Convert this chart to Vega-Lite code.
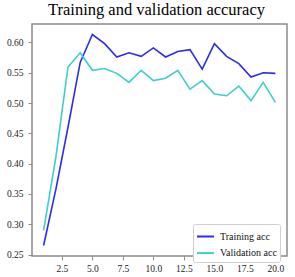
{
  "$schema": "https://vega.github.io/schema/vega-lite/v6.json",
  "width": 255,
  "height": 232,
  "autosize": "none",
  "padding": {"left": 32, "top": 24, "right": 8, "bottom": 21},
  "background": "white",
  "title": {"text": "Training and validation accuracy", "font": "Liberation Serif", "fontSize": 16.5, "fontWeight": "normal", "color": "#000", "baseline": "alphabetic", "offset": 9, "anchor": "middle", "dx": -3, "dy": 16},
  "config": {
    "view": {"stroke": "#8c8c8c", "strokeWidth": 1.5},
    "font": "Liberation Serif",
    "axis": {"grid": false, "domain": false, "labelFont": "Liberation Serif", "labelFontSize": 9.5, "labelColor": "#222", "tickColor": "#8c8c8c", "tickSize": 4, "tickWidth": 1, "title": null},
    "legend": {"labelFont": "Liberation Serif"},
    "title": {"font": "Liberation Serif"}
  },
  "data": {"values": [
    {"epoch": 1, "acc": 0.265, "series": "Training acc"},
    {"epoch": 2, "acc": 0.357, "series": "Training acc"},
    {"epoch": 3, "acc": 0.460, "series": "Training acc"},
    {"epoch": 4, "acc": 0.567, "series": "Training acc"},
    {"epoch": 5, "acc": 0.613, "series": "Training acc"},
    {"epoch": 6, "acc": 0.598, "series": "Training acc"},
    {"epoch": 7, "acc": 0.576, "series": "Training acc"},
    {"epoch": 8, "acc": 0.583, "series": "Training acc"},
    {"epoch": 9, "acc": 0.577, "series": "Training acc"},
    {"epoch": 10, "acc": 0.591, "series": "Training acc"},
    {"epoch": 11, "acc": 0.576, "series": "Training acc"},
    {"epoch": 12, "acc": 0.585, "series": "Training acc"},
    {"epoch": 13, "acc": 0.588, "series": "Training acc"},
    {"epoch": 14, "acc": 0.556, "series": "Training acc"},
    {"epoch": 15, "acc": 0.598, "series": "Training acc"},
    {"epoch": 16, "acc": 0.577, "series": "Training acc"},
    {"epoch": 17, "acc": 0.565, "series": "Training acc"},
    {"epoch": 18, "acc": 0.543, "series": "Training acc"},
    {"epoch": 19, "acc": 0.550, "series": "Training acc"},
    {"epoch": 20, "acc": 0.549, "series": "Training acc"},
    {"epoch": 1, "acc": 0.290, "series": "Validation acc"},
    {"epoch": 2, "acc": 0.410, "series": "Validation acc"},
    {"epoch": 3, "acc": 0.5595, "series": "Validation acc"},
    {"epoch": 4, "acc": 0.583, "series": "Validation acc"},
    {"epoch": 5, "acc": 0.554, "series": "Validation acc"},
    {"epoch": 6, "acc": 0.557, "series": "Validation acc"},
    {"epoch": 7, "acc": 0.549, "series": "Validation acc"},
    {"epoch": 8, "acc": 0.534, "series": "Validation acc"},
    {"epoch": 9, "acc": 0.554, "series": "Validation acc"},
    {"epoch": 10, "acc": 0.537, "series": "Validation acc"},
    {"epoch": 11, "acc": 0.541, "series": "Validation acc"},
    {"epoch": 12, "acc": 0.554, "series": "Validation acc"},
    {"epoch": 13, "acc": 0.523, "series": "Validation acc"},
    {"epoch": 14, "acc": 0.537, "series": "Validation acc"},
    {"epoch": 15, "acc": 0.515, "series": "Validation acc"},
    {"epoch": 16, "acc": 0.512, "series": "Validation acc"},
    {"epoch": 17, "acc": 0.528, "series": "Validation acc"},
    {"epoch": 18, "acc": 0.504, "series": "Validation acc"},
    {"epoch": 19, "acc": 0.534, "series": "Validation acc"},
    {"epoch": 20, "acc": 0.501, "series": "Validation acc"}
  ]},
  "mark": {"type": "line", "strokeWidth": 1.6},
  "encoding": {
    "x": {"field": "epoch", "type": "quantitative", "scale": {"domain": [0.05, 20.95], "nice": false, "zero": false}, "axis": {"values": [2.5, 5, 7.5, 10, 12.5, 15, 17.5, 20], "format": ".1f", "labelPadding": 3}},
    "y": {"field": "acc", "type": "quantitative", "scale": {"domain": [0.2476, 0.6304], "nice": false, "zero": false}, "axis": {"values": [0.25, 0.3, 0.35, 0.4, 0.45, 0.5, 0.55, 0.6], "format": ".2f", "labelPadding": 5}},
    "color": {"field": "series", "type": "nominal", "scale": {"domain": ["Training acc", "Validation acc"], "range": ["#2b2bf5", "#3ccfcc"]},
      "legend": {"title": null, "orient": "none", "legendX": 161, "legendY": 200, "symbolType": "stroke", "symbolSize": 289, "symbolStrokeWidth": 2, "labelFont": "Liberation Serif", "labelFontSize": 10, "labelColor": "#111", "strokeColor": "#d0d0d0", "fillColor": "white", "padding": 3, "cornerRadius": 2, "rowPadding": 1.6, "labelOffset": 5}}
  }
}
